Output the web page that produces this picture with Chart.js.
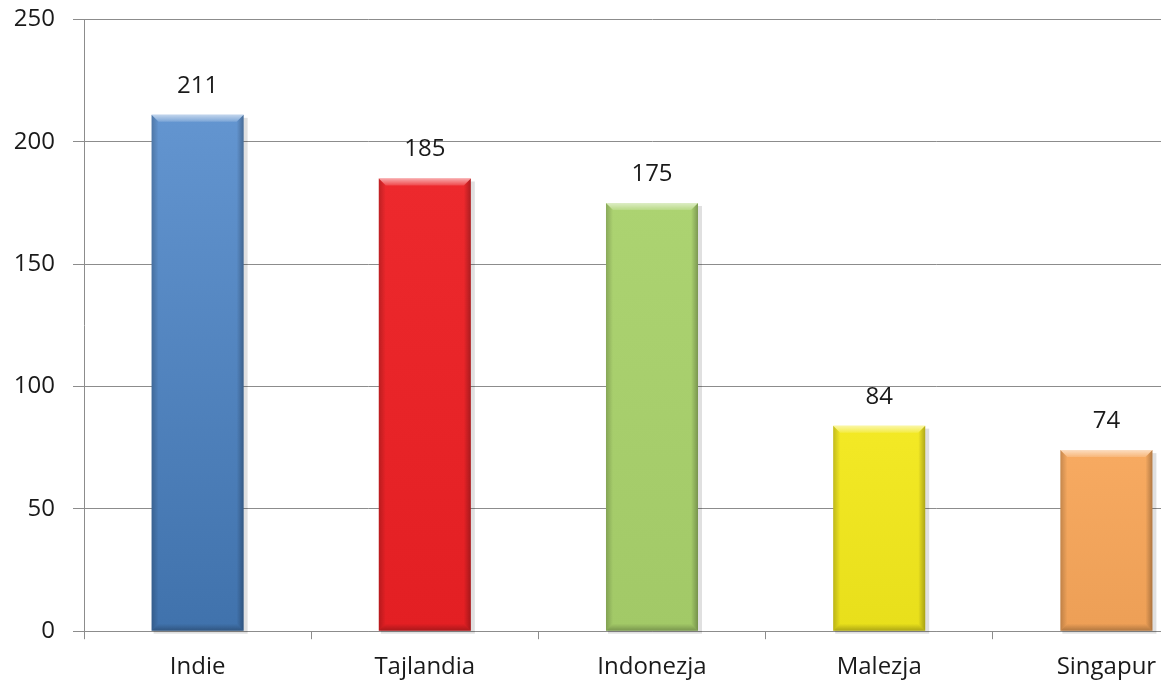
<!DOCTYPE html>
<html>
<head>
<meta charset="utf-8">
<script src="https://cdn.jsdelivr.net/npm/chart.js@4/dist/chart.umd.min.js"></script>
<style>
html,body{margin:0;padding:0;background:#fff;overflow:hidden;}
#wrap{position:absolute;left:0;top:-13px;width:1226px;height:709px;}
</style>
</head>
<body>
<div id="wrap"><canvas id="c" width="1226" height="709"></canvas></div>
<script>
const categories = ["Indie", "Tajlandia", "Indonezja", "Malezja", "Singapur"];
const values = [211, 185, 175, 84, 74];
const barColors = ["#4a84c8", "#ec2024", "#a9d16b", "#f2e81c", "#f7a65a"];
const yTicks = [0, 50, 100, 150, 200, 250];

function shade(hex, f) {
  const n = parseInt(hex.slice(1), 16);
  let r = (n >> 16) & 255, g = (n >> 8) & 255, b = n & 255;
  if (f < 0) { r = r * (1 + f); g = g * (1 + f); b = b * (1 + f); }
  else { r = r + (255 - r) * f; g = g + (255 - g) * f; b = b + (255 - b) * f; }
  return "rgb(" + Math.round(r) + "," + Math.round(g) + "," + Math.round(b) + ")";
}

const bevelPlugin = {
  id: "bevel",
  beforeDatasetsDraw(chart) {
    const meta = chart.getDatasetMeta(0);
    const ctx = chart.ctx;
    meta.data.forEach((el, i) => {
      const top = el.y, bot = el.base;
      const g = ctx.createLinearGradient(0, top, 0, bot);
      const k = i === 0 ? 0.14 : 0.04;
      g.addColorStop(0, shade(barColors[i], k));
      g.addColorStop(1, shade(barColors[i], -k));
      el.options.backgroundColor = g;
      ctx.save();
      ctx.fillStyle = "rgba(0,0,0,0.12)";
      ctx.fillRect(el.x - el.width / 2 + 2, top + 3, el.width + 2, bot - top);
      ctx.restore();
    });
  },
  afterDatasetsDraw(chart) {
    const meta = chart.getDatasetMeta(0);
    const ctx = chart.ctx;
    meta.data.forEach((el, i) => {
      const l = el.x - el.width / 2, r = el.x + el.width / 2;
      const t = el.y, b = el.base;
      const bw = 7;
      ctx.save();
      let g = ctx.createLinearGradient(l, 0, l + bw, 0);
      g.addColorStop(0, "rgba(0,0,0,0.2)");
      g.addColorStop(1, "rgba(0,0,0,0)");
      ctx.fillStyle = g;
      ctx.beginPath();
      ctx.moveTo(l, t); ctx.lineTo(l + bw, t + bw); ctx.lineTo(l + bw, b - bw); ctx.lineTo(l, b); ctx.closePath(); ctx.fill();
      g = ctx.createLinearGradient(r, 0, r - bw, 0);
      g.addColorStop(0, "rgba(0,0,0,0.28)");
      g.addColorStop(1, "rgba(0,0,0,0)");
      ctx.fillStyle = g;
      ctx.beginPath();
      ctx.moveTo(r, t); ctx.lineTo(r - bw, t + bw); ctx.lineTo(r - bw, b - bw); ctx.lineTo(r, b); ctx.closePath(); ctx.fill();
      g = ctx.createLinearGradient(0, t, 0, t + bw);
      g.addColorStop(0, "rgba(255,255,255,0.6)");
      g.addColorStop(1, "rgba(255,255,255,0.15)");
      ctx.fillStyle = g;
      ctx.beginPath();
      ctx.moveTo(l, t); ctx.lineTo(r, t); ctx.lineTo(r - bw, t + bw); ctx.lineTo(l + bw, t + bw); ctx.closePath(); ctx.fill();
      g = ctx.createLinearGradient(0, b, 0, b - bw);
      g.addColorStop(0, "rgba(0,0,0,0.25)");
      g.addColorStop(1, "rgba(0,0,0,0)");
      ctx.fillStyle = g;
      ctx.beginPath();
      ctx.moveTo(l, b); ctx.lineTo(r, b); ctx.lineTo(r - bw, b - bw); ctx.lineTo(l + bw, b - bw); ctx.closePath(); ctx.fill();
      ctx.restore();
      ctx.save();
      ctx.font = "24px 'Open Sans'";
      ctx.fillStyle = "#1a1a1a";
      ctx.textAlign = "center";
      ctx.textBaseline = "alphabetic";
      ctx.fillText(String(values[i]), el.x, t - 22);
      ctx.restore();
    });
  }
};

new Chart(document.getElementById("c"), {
  type: "bar",
  data: {
    labels: categories,
    datasets: [{
      data: values,
      backgroundColor: barColors,
      borderWidth: 0,
      barPercentage: 1,
      categoryPercentage: 0.405
    }]
  },
  options: {
    responsive: false,
    animation: false,
    events: [],
    layout: { padding: { top: 4, right: 6, left: 0, bottom: 0 } },
    plugins: { legend: { display: false }, tooltip: { enabled: false } },
    scales: {
      y: {
        min: 0, max: 250,
        afterBuildTicks(s) { s.ticks = yTicks.map(v => ({ value: v })); },
        afterFit(s) { s.width = 84; },
        ticks: { font: { family: "'Open Sans'", size: 24 }, color: "#1a1a1a", padding: 18 },
        grid: { color: "#8c8c8c", lineWidth: 1, tickLength: 11, drawTicks: true },
        border: { color: "#8c8c8c", width: 1 }
      },
      x: {
        ticks: { font: { family: "'Open Sans'", size: 24 }, color: "#1a1a1a", padding: 14 },
        grid: { drawOnChartArea: false, drawTicks: true, tickLength: 8, color: "#8c8c8c", offset: true },
        border: { color: "#8c8c8c", width: 1 }
      }
    }
  },
  plugins: [bevelPlugin]
});
</script>
</body>
</html>
